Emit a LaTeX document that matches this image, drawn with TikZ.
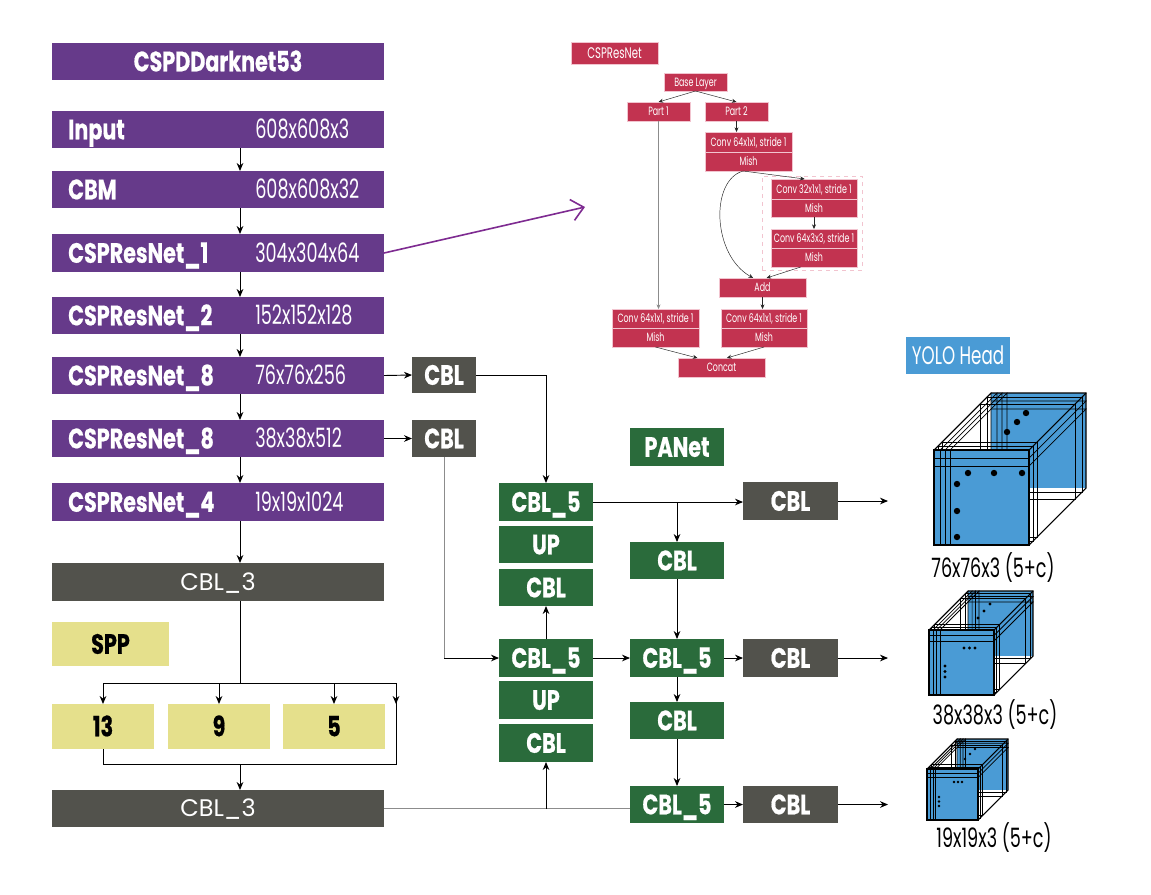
\documentclass[tikz,border=0pt]{standalone}
\usepackage{fontspec}
\setmainfont{Poppins}
\newfontfamily\fr{Poppins}[FakeStretch=0.66]
\newfontfamily\fb{Poppins}[FakeStretch=0.74,FakeBold=0.6]
\usetikzlibrary{arrows.meta}
\definecolor{cpurple}{HTML}{663A8A}
\definecolor{cgray}{HTML}{52524C}
\definecolor{cgreen}{HTML}{2A6B3B}
\definecolor{cyellow}{HTML}{E5E08C}
\definecolor{ccrimson}{HTML}{C23350}
\definecolor{cpink}{HTML}{F2C4CF}
\definecolor{cblue}{HTML}{4A9BD5}
\definecolor{cline}{HTML}{8C8C8C}
\definecolor{carrow}{HTML}{7E2B91}
\newcommand{\bx}[7]{%
  \pgfmathsetmacro\bw{(#4-#2)*0.75}\pgfmathsetmacro\bh{(#5-#3)*0.75}%
  \node[inner sep=0pt,outer sep=0pt,#6,minimum width=\bw pt,minimum height=\bh pt] (#1) at ({(#2+#4)/2},{(#3+#5)/2}) {#7};}
\newcommand{\pb}[5]{%
  \bx{#1}{52}{#2}{384}{#3}{fill=cpurple}{}%
  \node[ltxt] (#1L) at (68,{(#2+#3)/2+9.8}) {#4};
  \node[rtxt] (#1R) at (255,{(#2+#3)/2+9.3}) {#5};}
\newcommand{\yolocube}[4]{%
  \pgfmathsetmacro\Cx{#1}\pgfmathsetmacro\Cy{#2}\pgfmathsetmacro\Cs{#3}\pgfmathsetmacro\Cd{#4}\pgfmathsetmacro\Ck{#3/95}%
  \begin{scope}[line width=0.55pt]
  \fill[cblue] (\Cx+\Cd,\Cy-\Cd) rectangle ++(\Cs,\Cs);
  \foreach \q in {4,8} {\draw (\Cx+\q*\Ck,\Cy-\q*\Ck) rectangle ++(\Cs,\Cs);}
  \foreach \q in {11,4} {\draw (\Cx+\Cd-\q*\Ck,\Cy-\Cd+\q*\Ck) rectangle ++(\Cs,\Cs);}
  \foreach \q in {0,6,11,16} {\draw (\Cx+\q*\Ck,\Cy) -- ++(\Cd,-\Cd) -- ++(0,\Cs);}
  \foreach \q in {8,16} {\draw (\Cx+\Cs,\Cy+\q*\Ck) -- ++(\Cd,-\Cd) -- ++(-\Cs,0);}
  \fill[cblue] (\Cx,\Cy) rectangle ++(\Cs,\Cs);
  \foreach \q in {6,11,16} {\draw (\Cx+\q*\Ck,\Cy) -- ++(0,\Cs);}
  \foreach \q in {8,16} {\draw (\Cx,\Cy+\q*\Ck) -- ++(\Cs,0);}
  \draw[line width=0.8pt] (\Cx,\Cy) rectangle ++(\Cs,\Cs);
  \draw[line width=0.8pt] (\Cx,\Cy) -- ++(\Cd,-\Cd) -- ++(\Cs,0) -- ++(0,\Cs) -- (\Cx+\Cs,\Cy+\Cs);
  \draw[line width=0.8pt] (\Cx+\Cs,\Cy) -- ++(\Cd,-\Cd);
  \end{scope}}
\tikzset{
  bfont/.style={font=\fb\bfseries\fontsize{21}{21}\selectfont,text height=14.7pt,text depth=0pt},
  ltxt/.style={text=white,anchor=base west,inner sep=0pt,font=\fb\bfseries\fontsize{21}{21}\selectfont},
  rtxt/.style={text=white,anchor=base west,inner sep=0pt,font=\fr\fontsize{20}{20}\selectfont},
  gbox/.style={fill=cgreen,text=white,bfont},
  dbox/.style={fill=cgray,text=white,bfont},
  ybox/.style={fill=cyellow,text=black,bfont},
  wbox/.style={fill=cgray,text=white,font=\fontsize{18}{18}\selectfont,text height=12.6pt,text depth=0pt},
  rbox/.style={fill=ccrimson,draw=cpink,line width=0.4pt,text=white,font=\fr\fontsize{9}{9}\selectfont,text height=6.3pt,text depth=0pt},
  arr/.style={-{Stealth[length=6pt,width=5pt]},line width=0.7pt},
  sarr/.style={-{Stealth[length=3.5pt,width=3pt]},line width=0.35pt,draw=black!85},
  lbl/.style={font=\fr\fontsize{20}{20}\selectfont,text height=14pt,text depth=0pt,inner sep=0pt},
}
\begin{document}
\begin{tikzpicture}[x=0.75pt,y=-0.75pt]
\useasboundingbox[fill=white] (0,0) rectangle (1151,894);
% ---------- backbone ----------
\bx{title}{52}{43}{384}{80}{fill=cpurple,text=white,bfont}{CSPDDarknet53}
\pb{inp}{111}{148}{Input}{608x608x3}
\pb{cbm}{171}{208}{CBM}{608x608x32}
\pb{ra}{234}{272}{CSPResNet\_1}{304x304x64}
\pb{rb}{297}{334}{CSPResNet\_2}{152x152x128}
\pb{rc}{357}{394}{CSPResNet\_8}{76x76x256}
\pb{rd}{420}{457}{CSPResNet\_8}{38x38x512}
\pb{re}{483}{521}{CSPResNet\_4}{19x19x1024}
\bx{cblt}{52}{563}{384}{601}{wbox}{CBL\_3}
\bx{spp}{52}{622}{169}{666}{ybox}{SPP}
\bx{s13}{52}{704}{154}{749}{ybox}{13}
\bx{s9}{168}{704}{270}{749}{ybox}{9}
\bx{s5}{283}{704}{385}{749}{ybox}{5}
\bx{cblb}{52}{790}{384}{827}{wbox}{CBL\_3}
\coordinate (ax) at (240,0);
\draw[arr] (inp.south -| ax) -- (cbm.north -| ax);
\draw[arr] (cbm.south -| ax) -- (ra.north -| ax);
\draw[arr] (ra.south -| ax) -- (rb.north -| ax);
\draw[arr] (rb.south -| ax) -- (rc.north -| ax);
\draw[arr] (rc.south -| ax) -- (rd.north -| ax);
\draw[arr] (rd.south -| ax) -- (re.north -| ax);
\draw[arr] (re.south -| ax) -- (cblt.north -| ax);
% SPP branching
\coordinate (br) at (240,683);
\coordinate (bl) at (103,683);
\coordinate (brr) at (396,683);
\coordinate (bb) at (396,764);
\coordinate (bm) at (240,764);
\draw[line width=0.7pt] (cblt.south -| ax) -- (br);
\draw[line width=0.7pt] (bl) -- (brr);
\draw[arr] (bl) -- (s13.north);
\draw[arr] (s9.north |- br) -- (s9.north);
\draw[arr] (s5.north |- br) -- (s5.north);
\draw[arr] (brr) -- (396,704);
\draw[line width=0.7pt] (brr) -- (bb) -- (s13.south |- bb) -- (s13.south);
\draw[arr] (bm) -- (cblb.north -| ax);
% ---------- neck ----------
\bx{ca}{412}{357}{476}{393}{dbox}{CBL}
\bx{cb}{412}{420}{476}{457}{dbox}{CBL}
\draw[arr] (rc.east) -- (ca.west);
\draw[arr] (rd.east) -- (cb.west);
\bx{g5a}{499}{483}{593}{521}{gbox}{CBL\_5}
\bx{upa}{499}{526}{593}{563}{gbox}{UP}
\bx{gca}{499}{569}{593}{606}{gbox}{CBL}
\bx{g5b}{499}{639}{593}{677}{gbox}{CBL\_5}
\bx{upb}{499}{681}{593}{719}{gbox}{UP}
\bx{gcb}{499}{724}{593}{762}{gbox}{CBL}
\bx{pan}{630}{428}{724}{466}{gbox}{PANet}
\bx{hc1}{630}{542}{724}{579}{gbox}{CBL}
\bx{h5b}{630}{639}{724}{677}{gbox}{CBL\_5}
\bx{hc2}{630}{702}{724}{739}{gbox}{CBL}
\bx{h5c}{630}{786}{724}{823}{gbox}{CBL\_5}
\bx{oa}{743}{482}{838}{520}{dbox}{CBL}
\bx{ob}{743}{639}{838}{677}{dbox}{CBL}
\bx{oc}{743}{786}{838}{823}{dbox}{CBL}
\draw[arr] (ca.east) -| (g5a.north);
\draw[line width=0.7pt,cline] (cb.south) -- (cb.south |- g5b.west);
\draw[arr] (cb.south |- g5b.west) -- (g5b.west);
\draw[arr] (g5b.north) -- (gca.south);
\draw[line width=0.8pt,cline] (cblb.east) -- (cblb.east -| h5c.west);
\draw[arr] (gcb.south |- cblb.east) -- (gcb.south);
\draw[arr] (g5a.east) -- (g5a.east -| oa.west);
\draw[arr] (g5a.east -| hc1.north) -- (hc1.north);
\draw[arr] (hc1.south) -- (h5b.north);
\draw[arr] (g5b.east) -- (h5b.west);
\draw[arr] (h5b.east) -- (ob.west);
\draw[arr] (h5b.south) -- (hc2.north);
\draw[arr] (hc2.south) -- (h5c.north);
\draw[arr] (h5c.east) -- (oc.west);
\coordinate (ea) at (888,501);
\coordinate (eb) at (888,658);
\coordinate (ec) at (888,804.5);
\draw[arr] (oa.east) -- (ea);
\draw[arr] (ob.east) -- (eb);
\draw[arr] (oc.east) -- (ec);
% ---------- CSPResNet detail ----------
\bx{cspt}{571}{42}{658}{64}{rbox,font=\fr\fontsize{11.5}{11.5}\selectfont,text height=8pt}{CSPResNet}
\bx{base}{664}{73}{727}{91}{rbox}{Base Layer}
\bx{p1}{627}{102}{690}{121}{rbox}{Part 1}
\bx{p2}{705}{102}{768}{121}{rbox}{Part 2}
\bx{c1}{705}{132}{792}{152}{rbox}{Conv 64x1x1, stride 1}
\bx{m1}{705}{152}{792}{171}{rbox}{Mish}
\bx{dsh}{762}{176}{862}{270}{draw=cpink,dashed,line width=0.6pt}{}
\bx{c2}{771}{179}{857}{199}{rbox}{Conv 32x1x1, stride 1}
\bx{m2}{771}{199}{857}{217}{rbox}{Mish}
\bx{c3}{771}{229}{857}{248}{rbox}{Conv 64x3x3, stride 1}
\bx{m3}{771}{248}{857}{267}{rbox}{Mish}
\bx{add}{719}{278}{806}{297}{rbox}{Add}
\bx{c4}{721}{309}{807}{328}{rbox}{Conv 64x1x1, stride 1}
\bx{m4}{721}{328}{807}{347}{rbox}{Mish}
\bx{c5}{612}{309}{699}{328}{rbox}{Conv 64x1x1, stride 1}
\bx{m5}{612}{328}{699}{347}{rbox}{Mish}
\bx{cat}{678}{358}{765}{377}{rbox}{Concat}
\draw[sarr] (base.south) -- (p1.north);
\draw[sarr] (base.south) -- (p2.north);
\draw[sarr] (p2.south) -- (p2.south |- c1.north);
\draw[sarr,draw=cline] (p1.south) -- (p1.south |- c5.north);
\draw[sarr] ([xshift=-4pt]m1.south) -- ([xshift=-7pt]c2.north);
\draw[sarr] ([xshift=-4pt]m1.south) .. controls (710,180) and (712,255) .. ([xshift=-7pt]add.north);
\draw[sarr] (m2.south) -- (c3.north);
\draw[sarr] ([xshift=-10pt]m3.south) -- ([xshift=3pt]add.north);
\draw[sarr] (add.south) -- (add.south |- c4.north);
\draw[sarr] (m5.south) -- ([xshift=-18pt]cat.north);
\draw[sarr] (m4.south) -- ([xshift=4pt]cat.north);
\coordinate (pt) at (585,207);
\draw[carrow,line width=1.2pt,-{Straight Barb[length=9pt,width=16pt,line width=1.2pt]}] (ra.east) -- (pt);
% ---------- YOLO head ----------
\bx{yolo}{906}{337}{1010}{374}{fill=cblue,text=white,font=\fr\fontsize{19}{19}\selectfont,text height=13.3pt,text depth=0pt}{YOLO Head}
\yolocube{934}{450}{95}{57}
\foreach \p in {(968,473),(994,473),(1022,473),(957,484),(957,511),(957,537),(1007,432),(1017,422),(1026,413)} {\fill \p circle (3.2);}
\yolocube{929}{630}{65}{39}
\foreach \p in {(964,648),(969.5,648),(975,648),(945,666),(945,671.5),(945,677),(978,618),(984,611),(990,604)} {\fill \p circle (1.6);}
\yolocube{927}{769}{51}{30}
\foreach \p in {(954,782),(958,782),(962,782),(939,797),(939,801.5),(939,806),(965,759),(970,754),(975,749)} {\fill \p circle (1.3);}
\node[lbl] (la) at (993,568) {76x76x3 (5+c)};
\node[lbl] (lb) at (995,715) {38x38x3 (5+c)};
\node[lbl] (lc) at (994,838) {19x19x3 (5+c)};
\end{tikzpicture}
\end{document}
